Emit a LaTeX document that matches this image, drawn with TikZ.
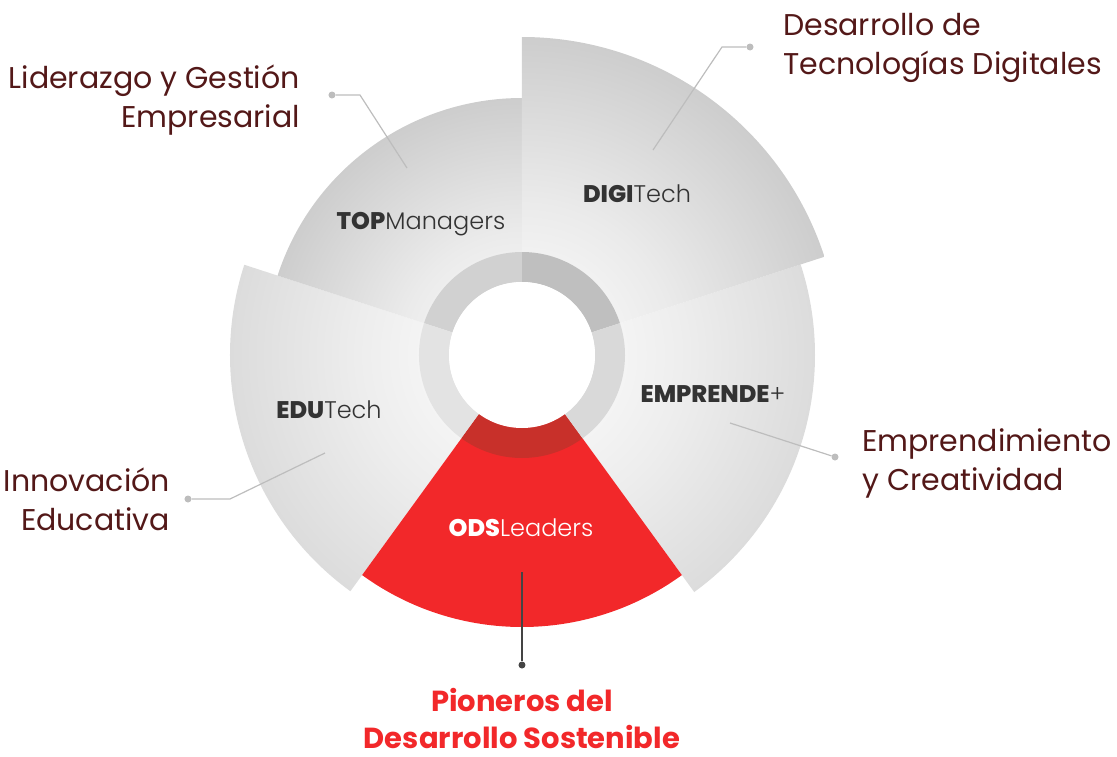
\documentclass[tikz,border=0pt]{standalone}
\usepackage{fontspec}
\setmainfont{Poppins}
\newfontfamily\logolight{Poppins Light}
\newfontfamily\logoheavy{Poppins ExtraBold}
\usetikzlibrary{positioning}
\definecolor{labeltext}{HTML}{531818}
\definecolor{logotext}{HTML}{333333}
\definecolor{odsred}{HTML}{F2282A}
\definecolor{odsring}{HTML}{C8302A}
\definecolor{leadergrey}{HTML}{BDBDBD}
\definecolor{leaderdark}{HTML}{444444}
\pgfdeclareradialshading{segdark}{\pgfpoint{0bp}{0bp}}{color(0bp)=(white); color(12bp)=(black!8); color(30bp)=(black!24); color(50bp)=(black!40)}
\pgfdeclareradialshading{seglight}{\pgfpoint{0bp}{0bp}}{color(0bp)=(white); color(14bp)=(black!7); color(32bp)=(black!18); color(50bp)=(black!30)}
\newcommand{\segpath}[3]{(0,0) -- (#1:#3) arc[start angle=#1,end angle=#2,radius=#3] -- cycle}
\newcommand{\ringpart}[2]{(#1:103) arc[start angle=#1,end angle=#2,radius=103] -- (#2:73) arc[start angle=#2,end angle=#1,radius=73] -- cycle}
\newcommand{\segment}[4]{\begin{scope}\clip \segpath{#1}{#2}{#3}; \shade[shading=#4] (0,0) circle (#3);\end{scope}}
\tikzset{
  leader/.style={draw=leadergrey,line width=1.2pt},
  leaderdot/.style={circle,fill=leadergrey,inner sep=0pt,minimum size=7pt},
  logo/.style={anchor=base,text=logotext,font=\fontsize{24}{28}\selectfont,inner sep=0pt},
  theme/.style={text=labeltext,font=\fontsize{30}{39}\selectfont,inner sep=0pt}
}

\begin{document}
\begin{tikzpicture}[x=1pt,y=1pt]
\useasboundingbox (-522,-401) rectangle (595,355);
% segments of the wheel
\segment{306}{378}{293}{seglight}
\segment{162}{234}{292}{seglight}
\segment{90}{162}{257}{segdark}
\segment{18}{90}{318}{segdark}
\fill[odsred] \segpath{234}{306}{272};
% inner ring
\fill[black!25] \ringpart{18}{90};
\fill[black!18] \ringpart{90}{162};
\fill[red!2!black!11] \ringpart{162}{234};
\fill[odsring] \ringpart{234}{306};
\fill[black!15] \ringpart{306}{378};
\fill[white] (0,0) circle (73);
%
\coordinate (topend) at (-115,187);
\coordinate (topbend) at (-162,260);
\node (topdot) [leaderdot] at (-190,260) {};
\coordinate (digiend) at (131,205);
\coordinate (digibend) at (200,308);
\node (digidot) [leaderdot] at (228,308) {};
\coordinate (empend) at (208,-68);
\node (empdot) [leaderdot] at (313,-102) {};
\coordinate (eduend) at (-197,-98);
\coordinate (edubend) at (-292,-144);
\node (edudot) [leaderdot] at (-334,-144) {};
\coordinate (odsstart) at (0,-217);
\node (odsdot) [leaderdot,fill=leaderdark] at (0,-310) {};
\draw[leader] (topdot) -- (topbend) -- (topend);
\draw[leader] (digidot) -- (digibend) -- (digiend);
\draw[leader] (empdot) -- (empend);
\draw[leader] (edudot) -- (edubend) -- (eduend);
\draw[leader,draw=leaderdark,line width=1.8pt] (odsstart) -- (odsdot);
%
\node (toplogo) [logo] at (-101,126) {{\logoheavy TOP}{\logolight Managers}};
\node (digilogo) [logo] at (115,153) {{\logoheavy DIGI}{\logolight Tech}};
\node (edulogo) [logo] at (-193,-63) {{\logoheavy EDU}{\logolight Tech}};
\node (emplogo) [logo] at (191,-47) {{\logoheavy EMPRENDE}{\logolight +}};
\node (odslogo) [logo,text=white] at (-1,-181) {{\logoheavy ODS}{\logolight Leaders}};
%
\node (toptheme) [theme,anchor=base east,align=right] at (-222,228) {Liderazgo y Gestión\\Empresarial};
\node (digitheme) [theme,anchor=base west,align=left] at (261,280) {Desarrollo de\\Tecnologías Digitales};
\node (emptheme) [theme,anchor=base west,align=left] at (340,-135) {Emprendimiento\\y Creatividad};
\node (edutheme) [theme,anchor=base east,align=right] at (-352,-175) {Innovación\\Educativa};
\node (odstheme) [theme,anchor=base,align=center,text=odsred,font=\fontsize{29}{37}\bfseries] at (0,-393) {Pioneros del\\Desarrollo Sostenible};
\end{tikzpicture}
\end{document}
